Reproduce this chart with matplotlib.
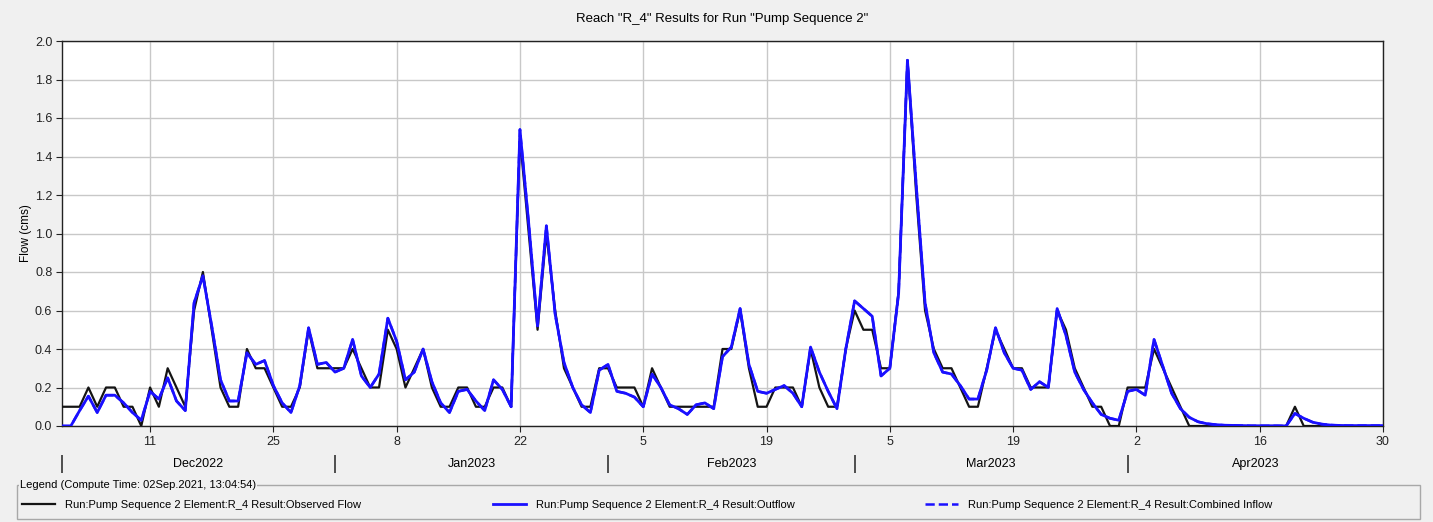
import numpy as np
import pandas as pd
import matplotlib
matplotlib.use("Agg")
import matplotlib.pyplot as plt
import matplotlib.dates as mdates
from matplotlib.patches import Rectangle

plt.rcParams['font.family'] = ['Liberation Sans', 'DejaVu Sans']

start_date = "2022-12-01"

# daily observed flow (cms), Dec 1 2022 .. Apr 30 2023
observed = [0.1, 0.1, 0.1, 0.2, 0.1, 0.2, 0.2, 0.1, 0.1, 0.0,
            0.2, 0.1, 0.3, 0.2, 0.1, 0.6, 0.8, 0.5, 0.2, 0.1,
            0.1, 0.4, 0.3, 0.3, 0.2, 0.1, 0.1, 0.2, 0.5, 0.3,
            0.3, 0.3, 0.3, 0.4, 0.3, 0.2, 0.2, 0.5, 0.4, 0.2,
            0.3, 0.4, 0.2, 0.1, 0.1, 0.2, 0.2, 0.1, 0.1, 0.2,
            0.2, 0.1, 1.5, 1.0, 0.5, 1.0, 0.6, 0.3, 0.2, 0.1,
            0.1, 0.3, 0.3, 0.2, 0.2, 0.2, 0.1, 0.3, 0.2, 0.1,
            0.1, 0.1, 0.1, 0.1, 0.1, 0.4, 0.4, 0.6, 0.3, 0.1,
            0.1, 0.2, 0.2, 0.2, 0.1, 0.4, 0.2, 0.1, 0.1, 0.4,
            0.6, 0.5, 0.5, 0.3, 0.3, 0.7, 1.9, 1.2, 0.6, 0.4,
            0.3, 0.3, 0.2, 0.1, 0.1, 0.3, 0.5, 0.4, 0.3, 0.3,
            0.2, 0.2, 0.2, 0.6, 0.5, 0.3, 0.2, 0.1, 0.1, 0.0,
            0.0, 0.2, 0.2, 0.2, 0.4, 0.3, 0.2, 0.1, 0.0, 0.0,
            0.0, 0.0, 0.0, 0.0, 0.0, 0.0, 0.0, 0.0, 0.0, 0.0,
            0.1, 0.0, 0.0, 0.0, 0.0, 0.0, 0.0, 0.0, 0.0, 0.0,
            0.0]

# simulated outflow (cms)
outflow = [0.0, 0.0, 0.08, 0.155, 0.07, 0.16, 0.16, 0.12, 0.07, 0.03,
           0.18, 0.14, 0.25, 0.13, 0.08, 0.64, 0.78, 0.52, 0.24, 0.13,
           0.13, 0.38, 0.32, 0.34, 0.21, 0.12, 0.07, 0.21, 0.51, 0.32,
           0.33, 0.28, 0.30, 0.45, 0.26, 0.20, 0.27, 0.56, 0.44, 0.24,
           0.28, 0.40, 0.23, 0.12, 0.07, 0.18, 0.19, 0.13, 0.08, 0.24,
           0.19, 0.10, 1.54, 1.05, 0.52, 1.04, 0.58, 0.33, 0.20, 0.11,
           0.07, 0.29, 0.32, 0.18, 0.17, 0.15, 0.10, 0.27, 0.20, 0.11,
           0.09, 0.06, 0.11, 0.12, 0.09, 0.36, 0.41, 0.61, 0.32, 0.18,
           0.17, 0.19, 0.21, 0.17, 0.10, 0.41, 0.28, 0.18, 0.09, 0.40,
           0.65, 0.61, 0.57, 0.26, 0.30, 0.69, 1.90, 1.25, 0.64, 0.38,
           0.28, 0.27, 0.21, 0.14, 0.14, 0.29, 0.51, 0.38, 0.30, 0.29,
           0.19, 0.23, 0.20, 0.61, 0.47, 0.28, 0.19, 0.12, 0.06, 0.04,
           0.03, 0.18, 0.19, 0.16, 0.45, 0.31, 0.17, 0.09, 0.045, 0.022,
           0.012, 0.007, 0.004, 0.003, 0.002, 0.001, 0.001, 0.001, 0.001, 0.0,
           0.065, 0.04, 0.02, 0.01, 0.005, 0.003, 0.002, 0.002, 0.002, 0.002,
           0.002]

# combined inflow sits right under the outflow line
combined_inflow = list(outflow)

day_ticks = ["2022-12-11", "2022-12-25", "2023-01-08", "2023-01-22", "2023-02-05",
             "2023-02-19", "2023-03-05", "2023-03-19", "2023-04-02", "2023-04-16",
             "2023-04-30"]
month_starts = ["2022-12-01", "2023-01-01", "2023-02-01", "2023-03-01", "2023-04-01"]
month_labels = ["Dec2022", "Jan2023", "Feb2023", "Mar2023", "Apr2023"]

title = 'Reach "R_4" Results for Run "Pump Sequence 2"'
legend_title = "Legend (Compute Time: 02Sep.2021, 13:04:54)"
names = ["Run:Pump Sequence 2 Element:R_4 Result:Observed Flow",
         "Run:Pump Sequence 2 Element:R_4 Result:Outflow",
         "Run:Pump Sequence 2 Element:R_4 Result:Combined Inflow"]

W, H = 1433, 522
dates = pd.date_range(start_date, periods=len(observed), freq="D")

bg = "#f0f0f0"
fig = plt.figure(figsize=(W / 100, H / 100), dpi=100, facecolor=bg)
ax = fig.add_axes([62 / W, 1 - 426 / H, (1383 - 62) / W, (426 - 41) / H])
ax.set_facecolor("white")

l_obs, = ax.plot(dates, observed, color="#141414", lw=1.6, zorder=3)
l_inf, = ax.plot(dates, combined_inflow, color="#1a10ff", lw=1.8, ls="--", zorder=4)
l_out, = ax.plot(dates, outflow, color="#1a10ff", lw=2.0, zorder=5)

ax.set_xlim(dates[0], dates[-1])
ax.set_ylim(0, 2.0)
ax.set_yticks(np.arange(0, 2.01, 0.2))
ax.yaxis.set_major_formatter(matplotlib.ticker.FormatStrFormatter("%.1f"))
xt = pd.to_datetime(day_ticks)
ax.set_xticks(xt)
ax.set_xticklabels([str(d.day) for d in xt])
ax.grid(True, color="#c8c8c8", lw=1.0, zorder=0)
ax.tick_params(direction="out", length=4, labelsize=9, colors="#222222", pad=3)
for s in ax.spines.values():
    s.set_color("#222222")
    s.set_linewidth(1.0)
ax.set_ylabel("Flow (cms)", fontsize=8.5, labelpad=2)
ax.set_title(title, fontsize=9.5, pad=14)

# month row below the day labels
ms = pd.to_datetime(month_starts)
ends = list(ms[1:]) + [dates[-1]]
mids = [a + (b - a) / 2 for a, b in zip(ms, ends)]
sec = ax.secondary_xaxis(-(455 - 426) / (426 - 41))
sec.spines["bottom"].set_visible(False)
sec.set_xticks(mdates.date2num(ms))
sec.set_xticklabels([""] * len(ms))
sec.set_xticks(mdates.date2num(mids), minor=True)
sec.set_xticklabels(month_labels, minor=True)
sec.tick_params(which="major", direction="out", length=13, width=1.2, color="#333333")
sec.tick_params(which="minor", length=0, labelsize=9, pad=2)

# legend panel
fig.patches.append(Rectangle((17 / W, 1 - 519 / H), (1420 - 17) / W, (519 - 485) / H,
                             transform=fig.transFigure, fill=False,
                             edgecolor="#a8a8a8", lw=1.0))
fig.text(20 / W, 1 - 485 / H, legend_title, fontsize=8, va="center", ha="left",
         family=["Liberation Sans Narrow", "Liberation Sans", "DejaVu Sans"],
         bbox=dict(facecolor=bg, edgecolor="none", pad=1))

for h, name, x0 in zip([l_obs, l_out, l_inf], names, [22, 493, 925]):
    fig.legend(handles=[h], labels=[name], loc="center left",
               bbox_to_anchor=(x0 / W, 1 - 505 / H), frameon=False,
               borderpad=0, borderaxespad=0, handlelength=3.0, handletextpad=0.9,
               prop=dict(size=8, family=["Liberation Sans Narrow", "Liberation Sans", "DejaVu Sans"]))

fig.savefig("out.png", dpi=100, facecolor=bg)
